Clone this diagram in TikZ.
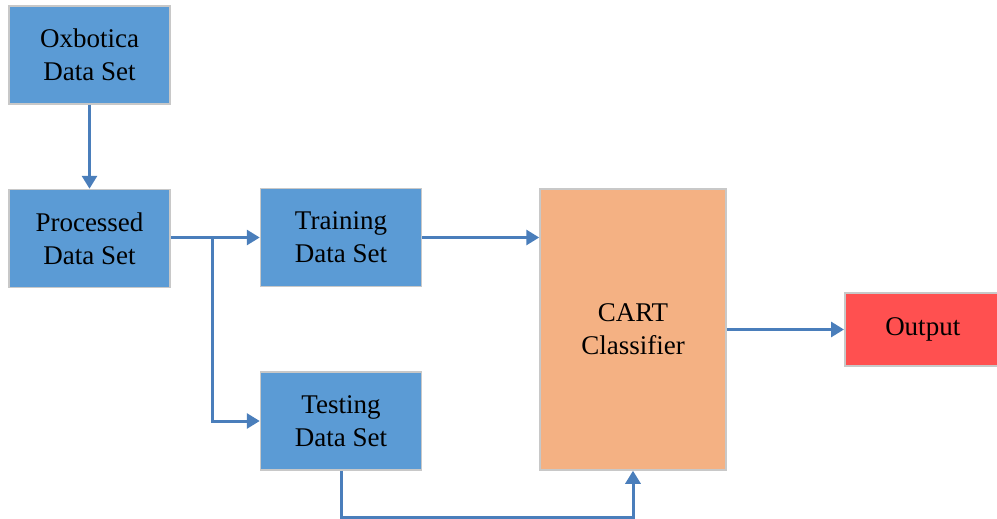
\documentclass[tikz,border=0pt]{standalone}
\usepackage{fontspec}
\setmainfont{Liberation Serif}
\usetikzlibrary{arrows.meta,positioning}
\definecolor{boxblue}{HTML}{5B9BD5}
\definecolor{boxedge}{HTML}{C8C8C8}
\definecolor{cartfill}{HTML}{F4B183}
\definecolor{outfill}{HTML}{FF5050}
\definecolor{arrowc}{HTML}{4A7EBB}
\tikzset{
  blk/.style={draw=boxedge, line width=1.5pt, inner sep=0pt, align=center,
    font=\fontsize{27}{33}\selectfont, text=black},
  bluebox/.style={blk, fill=boxblue, minimum width=161pt, minimum height=98pt},
  conn/.style={draw=arrowc, line width=3pt, -{Triangle[length=13pt,width=15pt]}},
  link/.style={draw=arrowc, line width=3pt}
}
\begin{document}
\begin{tikzpicture}[x=1pt,y=-1pt]
\useasboundingbox (0,0) rectangle (997,519);
\node[bluebox] (ox) at (89.5,55) {Oxbotica\\Data Set};
\node[bluebox] (proc) at (89.5,238.5) {Processed\\Data Set};
\node[bluebox] (train) at (341,237.5) {Training\\Data Set};
\node[bluebox] (test) at (341,421) {Testing\\Data Set};
\node[blk, fill=cartfill, minimum width=186pt, minimum height=281pt] (cart) at (633,329.5) {CART\\Classifier};
\node[blk, fill=outfill, minimum width=156pt, minimum height=73pt, anchor=west] (out) at (844,329.5) {Output};
\coordinate (br) at (212,238.5);
\coordinate (lowL) at (341,517);
\coordinate (lowR) at (633,517);
\draw[conn] (ox.south) -- (proc.north);
\draw[conn] (proc.east |- train.west) -- (train.west);
\draw[conn] (br) |- (test.west);
\draw[conn] (train.east) -- (train.east -| cart.west);
\draw[conn] (cart.east) -- (out.west);
\draw[conn] (test.south) -- (lowL) -- (lowR) -- (cart.south);
\end{tikzpicture}
\end{document}
